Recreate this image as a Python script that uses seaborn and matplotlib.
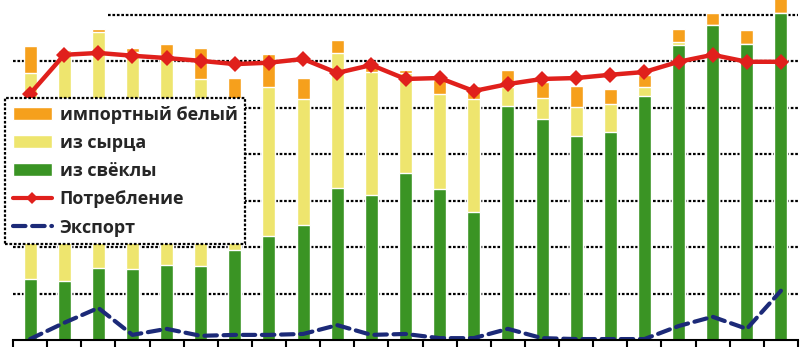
import numpy as np
import matplotlib
matplotlib.use("Agg")
import matplotlib.pyplot as plt
import seaborn as sns
from matplotlib.patches import Patch
from matplotlib.lines import Line2D

# Sugar balance, million tonnes
beet = [1.31, 1.27, 1.55, 1.53, 1.62, 1.59, 1.94, 2.24, 2.48, 3.27, 3.12, 3.60,
        3.25, 2.76, 5.04, 4.76, 4.39, 4.48, 5.26, 6.35, 6.78, 6.38, 7.04]
raw = [4.44, 4.93, 5.08, 4.67, 4.52, 4.03, 3.23, 3.21, 2.71, 2.91, 2.65, 2.15,
       2.05, 2.43, 0.41, 0.45, 0.63, 0.60, 0.19, 0.07, 0.0, 0.0, 0.0]
imported = [0.58, 0.04, 0.07, 0.09, 0.24, 0.67, 0.47, 0.71, 0.45, 0.28, 0.20, 0.07,
            0.30, 0.28, 0.37, 0.35, 0.45, 0.33, 0.26, 0.28, 0.26, 0.30, 0.40]
consumption = [5.30, 6.14, 6.18, 6.12, 6.07, 6.01, 5.94, 5.97, 6.05, 5.75, 5.92, 5.62,
               5.64, 5.36, 5.51, 5.62, 5.64, 5.71, 5.77, 5.99, 6.14, 5.99, 5.99]
export = [0.02, 0.37, 0.69, 0.11, 0.24, 0.09, 0.11, 0.11, 0.13, 0.32, 0.11, 0.13,
          0.04, 0.04, 0.24, 0.04, 0.02, 0.02, 0.02, 0.30, 0.50, 0.24, 1.06]

labels = ["импортный белый", "из сырца", "из свёклы", "Потребление", "Экспорт"]

c_green = "#3a9424"
c_yellow = "#eee56e"
c_orange = "#f6a01c"
c_red = "#e0201c"
c_navy = "#1c2a78"

sns.set_style("white")
plt.rcParams["font.family"] = ["Open Sans", "DejaVu Sans"]

x = np.arange(len(beet))
beet_a = np.array(beet)
top_raw = beet_a + np.array(raw)
top_imp = top_raw + np.array(imported)

fig = plt.figure(figsize=(8, 3.52), dpi=100)
ax = fig.add_axes([13 / 800, 12 / 352, 785 / 800, 1 - 12 / 352])

# gridlines
for v in range(1, 8):
    xmin = 0.121 if v == 7 else 0
    ax.axhline(v, xmin=xmin, color="black", lw=1.6, ls=(0, (1.2, 0.8)), zorder=0)

sns.barplot(x=x, y=top_imp, color=c_orange, width=0.38, saturation=1, ax=ax, zorder=2)
sns.barplot(x=x, y=top_raw, color=c_yellow, width=0.38, saturation=1, ax=ax, zorder=3)
sns.barplot(x=x, y=beet_a, color=c_green, width=0.38, saturation=1, ax=ax, zorder=4)

ax.plot(x, consumption, color=c_red, lw=3.2, marker="D", markersize=8,
        markeredgewidth=0, zorder=6)
ax.plot(x, export, color=c_navy, lw=3, ls=(0, (3.0, 1.6)),
        dash_capstyle="round", zorder=6)

ax.set_xlim(-0.5, len(beet) - 0.5)
ax.set_ylim(0, 7.32)
ax.set_xticks(np.arange(len(beet) + 1) - 0.5)
ax.set_xticklabels([])
ax.set_yticks([])
ax.tick_params(axis="x", direction="out", length=5, width=1.5, color="black", bottom=True)
ax.set_xlabel("")
ax.set_ylabel("")
for s in ["top", "right", "left"]:
    ax.spines[s].set_visible(False)
ax.spines["bottom"].set_color("black")
ax.spines["bottom"].set_linewidth(1.5)
ax.spines["bottom"].set_zorder(7)

handles = [
    Patch(facecolor=c_orange),
    Patch(facecolor=c_yellow),
    Patch(facecolor=c_green),
    Line2D([], [], color=c_red, lw=3, marker="D", markersize=6, markeredgewidth=0),
    Line2D([], [], color=c_navy, lw=3, ls=(0, (3.0, 1.6)), dash_capstyle="round"),
]
leg = fig.legend(handles, labels, loc="upper left",
                 bbox_to_anchor=(5 / 800, 1 - 98 / 352), bbox_transform=fig.transFigure,
                 borderaxespad=0, fancybox=False, framealpha=1,
                 prop={"size": 13, "weight": "bold"},
                 handlelength=2.2, handleheight=0.75, handletextpad=0.4,
                 labelspacing=0.57, borderpad=0.42)
frame = leg.get_frame()
frame.set_edgecolor("black")
frame.set_linewidth(1.6)
frame.set_linestyle((0, (1.2, 0.8)))
leg.set_zorder(10)

fig.savefig("out.png", dpi=100)
